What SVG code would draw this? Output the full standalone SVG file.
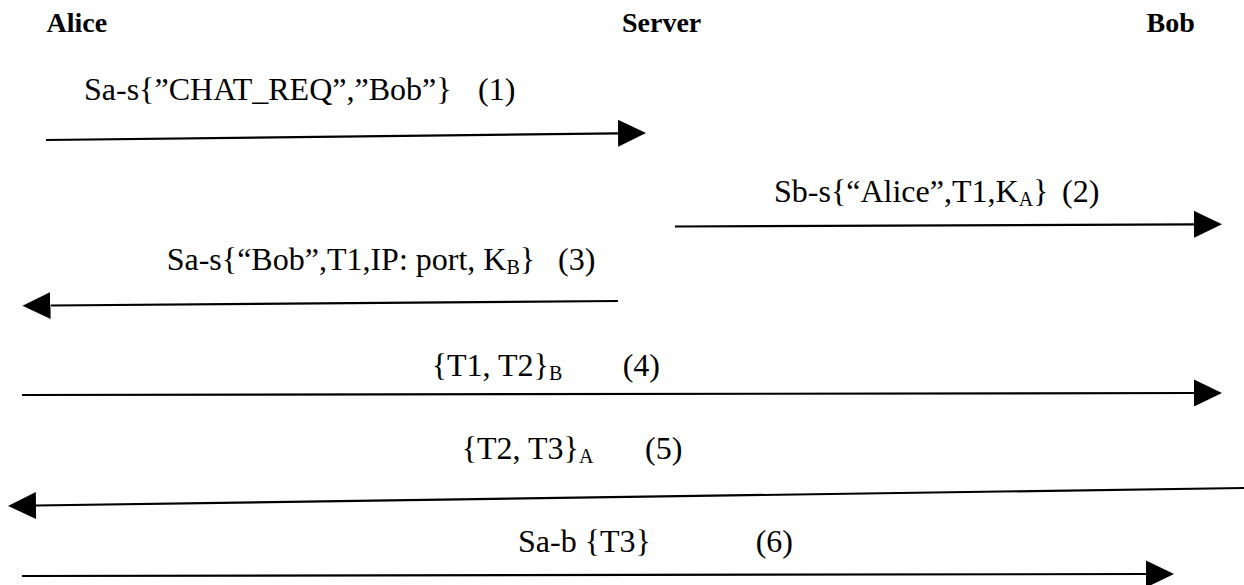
<svg xmlns="http://www.w3.org/2000/svg" width="1244" height="585" viewBox="0 0 1244 585">
<style>
.hdr{font-family:"Liberation Serif","Times New Roman",serif;font-weight:bold;font-size:28px;fill:#000}
.lbl{font-family:"Liberation Serif","Times New Roman",serif;font-size:32px;fill:#000}
.sub{font-size:20px}
.msg{stroke:#000;stroke-width:2.2;fill:none;marker-end:url(#ah)}
</style>
<defs>
<marker id="ah" markerUnits="userSpaceOnUse" viewBox="0 -13.5 28 27" refX="0" refY="0" markerWidth="28" markerHeight="27" orient="auto">
<path d="M0,-13.5 L28,0 L0,13.5 Z" fill="#000"/>
</marker>
</defs>
<rect width="1244" height="585" fill="#fff"/>
<g id="alice"><text class="hdr" x="46.5" y="32">Alice</text></g>
<g id="server"><text class="hdr" x="622" y="32">Server</text></g>
<g id="bob"><text class="hdr" x="1146.5" y="32">Bob</text></g>
<g id="connectors">
<line class="msg" x1="46" y1="140" x2="618" y2="133.3"/>
<line class="msg" x1="675" y1="226.5" x2="1194" y2="224.3"/>
<line class="msg" x1="618" y1="301" x2="50.5" y2="305.5"/>
<line class="msg" x1="22" y1="395" x2="1194" y2="393"/>
<line class="msg" x1="1244" y1="488" x2="36" y2="505.5"/>
<line class="msg" x1="22" y1="576" x2="1146" y2="574"/>
</g>
<g id="labels">
<text class="lbl" x="84" y="100">Sa-s{”CHAT_REQ”,”Bob”}</text>
<text class="lbl" x="478" y="100">(1)</text>
<text class="lbl" x="774" y="202">Sb-s{“Alice”,T1,K<tspan class="sub" dy="4">A</tspan><tspan dy="-4">}</tspan></text>
<text class="lbl" x="1062" y="202">(2)</text>
<text class="lbl" x="166.7" y="270">Sa-s{“Bob”,T1,IP: port, K<tspan class="sub" dy="4">B</tspan><tspan dy="-4">}</tspan></text>
<text class="lbl" x="558" y="270">(3)</text>
<text class="lbl" x="431.7" y="376">{T1, T2}<tspan class="sub" dy="4">B</tspan></text>
<text class="lbl" x="622.7" y="376">(4)</text>
<text class="lbl" x="461.7" y="458.5">{T2, T3}<tspan class="sub" dy="4">A</tspan></text>
<text class="lbl" x="645" y="458.5">(5)</text>
<text class="lbl" x="518" y="552">Sa-b {T3}</text>
<text class="lbl" x="755.7" y="552">(6)</text>
</g>
</svg>
